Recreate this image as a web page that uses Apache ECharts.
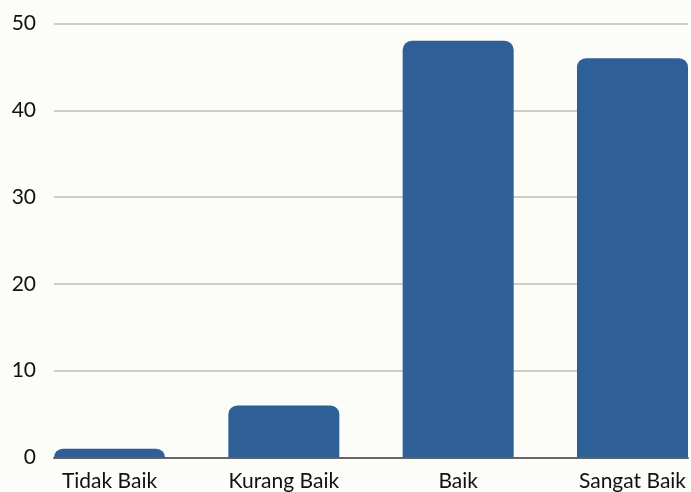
<!DOCTYPE html>
<html>
<head>
<meta charset="utf-8">
<script src="https://cdn.jsdelivr.net/npm/echarts@6/dist/echarts.min.js"></script>
<style>
html,body{margin:0;padding:0;background:#fcfdf9;}
#chart{width:691px;height:492px;}
</style>
</head>
<body>
<div id="chart"></div>
<script>
var categories = ['Tidak Baik', 'Kurang Baik', 'Baik', 'Sangat Baik'];
var values = [1, 6, 48, 46];
var yTicks = [0, 10, 20, 30, 40, 50];

var labelFont = {
	color: '#111',
	fontFamily: 'Lato',
	fontSize: 21
};

// bars sit flush with both ends of the plot, so use a value axis
// with half a bar of padding on each side
var pad = 0.3184;
var barData = values.map(function(v, i){ return [i, v]; });

var option = {
	backgroundColor: '#fcfdf9',
	animation: false,
	grid: {left: 54, right: 3, top: 23.5, bottom: 34.5},
	xAxis: {
		type: 'value',
		min: -pad,
		max: categories.length - 1 + pad,
		axisLine: {show: true, lineStyle: {color: '#666', width: 2}},
		axisTick: {show: false},
		splitLine: {show: false},
		axisLabel: Object.assign({
			margin: 13,
			customValues: categories.map(function(c, i){ return i; }),
			formatter: function(v){ return categories[Math.round(v)]; }
		}, labelFont)
	},
	yAxis: {
		type: 'value',
		min: yTicks[0],
		max: yTicks[yTicks.length - 1],
		interval: 10,
		axisLine: {show: false},
		axisTick: {show: false},
		axisLabel: Object.assign({margin: 18}, labelFont),
		splitLine: {lineStyle: {color: '#bcbeb8', width: 1.5}}
	},
	series: [{
		type: 'bar',
		data: barData,
		barWidth: 111,
		itemStyle: {color: '#2e5f96', borderRadius: [9, 9, 0, 0]}
	}]
};

var myChart = echarts.init(document.getElementById('chart'));
myChart.setOption(option);
</script>
</body>
</html>
